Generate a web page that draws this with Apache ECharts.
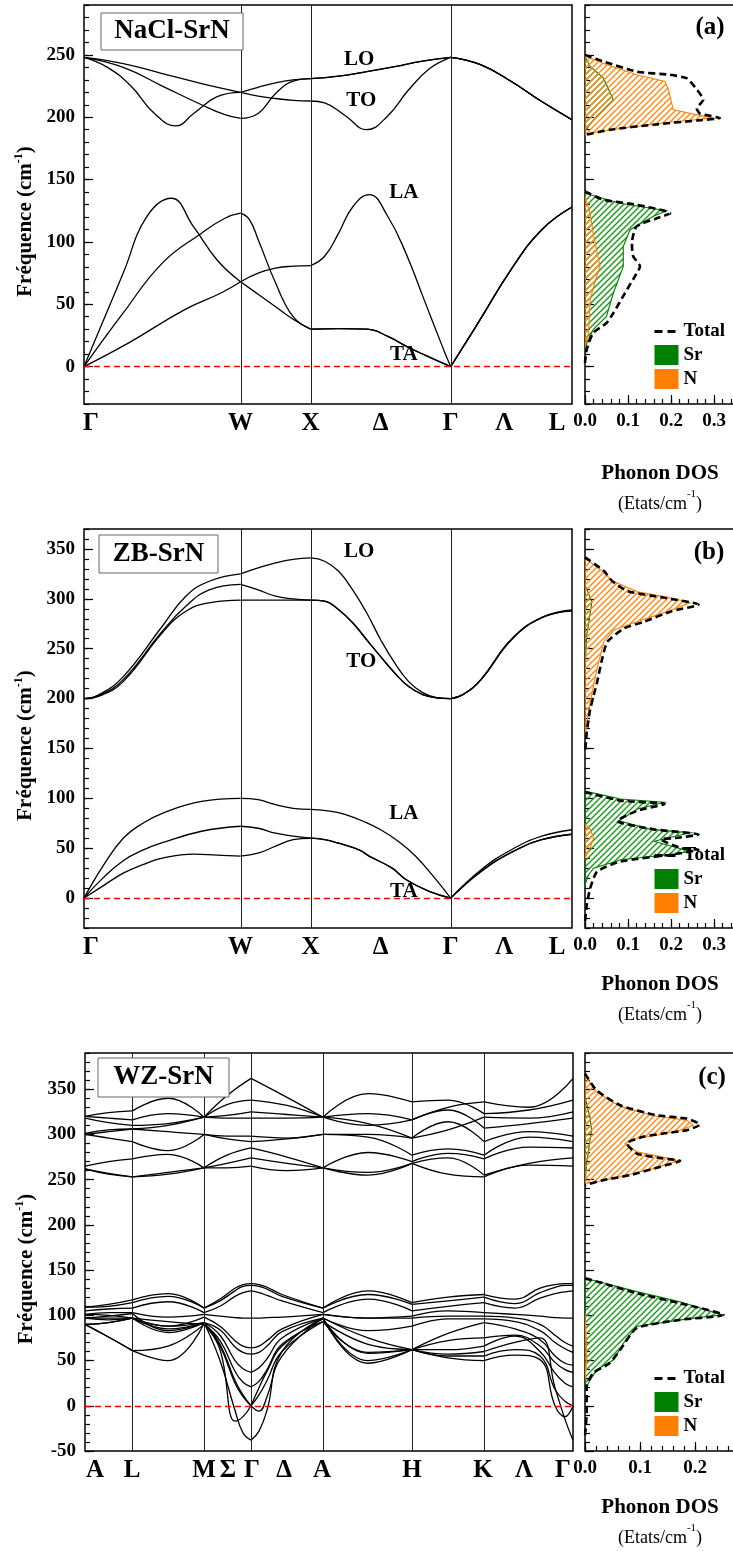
<!DOCTYPE html>
<html>
<head>
<meta charset="utf-8">
<title>Phonons SrN</title>
<script src="https://cdn.jsdelivr.net/npm/echarts@6.0.0/dist/echarts.min.js"></script>
<style>
  html, body { margin: 0; padding: 0; background: #fff; }
  #chart { width: 733px; height: 1555px; }
</style>
</head>
<body>
<div id="chart"></div>
<script>
// ---------------- (a) NaCl-SrN : path Γ-W-X-Γ-L ----------------
const kNodesA = [0, 1.118, 1.618, 2.618, 3.484];
const tickNamesFcc = ['Γ', 'W', 'X', 'Δ', 'Γ', 'Λ', 'L'];
const tickPosFcc = [0.05, 1.118, 1.618, 2.118, 2.618, 3.0, 3.377];

const nacl_O1 = [[0,248],[0.28,243],[0.559,235],[0.839,227],[1.118,220],[1.243,217],[1.368,215],[1.493,213.5],[1.618,213],[1.718,211.5],[1.868,201],[2.018,190],[2.168,201],[2.318,222],[2.468,239],[2.618,248],[2.835,242],[3.051,228.6],[3.268,212.6],[3.484,198]];
const nacl_O2 = [[0,248],[0.168,240],[0.335,225],[0.503,203],[0.656,193],[0.783,203],[0.95,216.5],[1.118,220],[1.243,224],[1.368,227.5],[1.493,230],[1.618,231],[1.818,233],[2.018,236.5],[2.218,240.5],[2.418,245],[2.618,248],[2.835,242],[3.051,228.6],[3.268,212.6],[3.484,198]];
const nacl_O3 = [[0,248],[0.28,240],[0.559,225],[0.839,210],[1.006,202],[1.118,199],[1.243,203],[1.368,219],[1.493,229],[1.618,231],[1.818,233],[2.018,236.5],[2.218,240.5],[2.418,245],[2.618,248],[2.835,242],[3.051,228.6],[3.268,212.6],[3.484,198]];
const nacl_A1 = [[0,0],[0.319,19],[0.716,45.5],[0.978,59],[1.118,68],[1.243,75],[1.368,79],[1.493,80.5],[1.618,81],[1.718,88.5],[1.818,107],[1.918,128],[2.036,138],[2.168,120.6],[2.298,91],[2.428,53.7],[2.568,13.4],[2.618,0],[2.83,38],[3.05,78],[3.27,110],[3.484,128]];
const nacl_A2 = [[0,0],[0.28,43],[0.559,83],[0.839,107],[1.006,119],[1.118,123],[1.18,118],[1.243,102],[1.368,67],[1.493,40],[1.618,30],[1.82,30.5],[2.022,30],[2.173,24],[2.306,16],[2.438,9],[2.618,0],[2.83,38],[3.05,78],[3.27,110],[3.484,128]];
const nacl_A3 = [[0,0],[0.28,75],[0.447,120],[0.623,135],[0.783,112],[0.95,85.5],[1.118,68],[1.243,58],[1.368,48],[1.493,38],[1.618,30],[1.82,30.5],[2.022,30],[2.173,24],[2.306,16],[2.438,9],[2.618,0],[2.83,38],[3.05,78],[3.27,110],[3.484,128]];
const nacl_modeNames = [[1.965,246.5,'LO'],[1.98,213.4,'TO'],[2.283,139.2,'LA'],[2.283,9.6,'TA']];

// phonon DOS of NaCl-SrN, [states/cm-1, cm-1]
const nacl_totalHi = [[0,250],[0.043,244.7],[0.12,236.6],[0.198,234],[0.236,231.3],[0.256,224],[0.275,214],[0.26,207],[0.267,203],[0.314,199.3],[0.26,197.4],[0.159,194],[0.058,190],[0.004,186],[0,184.6]];
const nacl_totalLo = [[0,140.5],[0.043,133.8],[0.12,129.8],[0.198,123],[0.167,119],[0.12,112.4],[0.109,99],[0.112,88.4],[0.128,80.4],[0.116,72.4],[0.093,59],[0.066,43],[0.05,35],[0.019,27],[0.004,13.6],[0,3]];
const nacl_srHi = [[0,249],[0.012,240.7],[0.043,231.3],[0.066,214],[0.027,200.6],[0.008,192.6],[0,188.6]];
const nacl_srLo = [[0,139],[0.081,131],[0.19,125],[0.159,120.5],[0.105,109.8],[0.089,96.4],[0.089,80.4],[0.066,59],[0.05,40.3],[0.019,29.6],[0.004,19],[0,11]];
const nacl_nHi = [[0,249.2],[0.043,243],[0.12,234],[0.186,228.6],[0.194,222],[0.2,214],[0.205,206],[0.298,199.3],[0.198,196],[0.081,191],[0.004,186.6],[0,186]];
const nacl_nLo = [[0,136.5],[0.012,123],[0.019,107],[0.035,80.4],[0.027,72.4],[0.012,53.7],[0.008,27],[0,16.3]];

// ---------------- (b) ZB-SrN : path Γ-W-X-Γ-L ----------------
const zb_TO = [[1.618,298.6],[1.718,297.6],[1.818,289],[1.918,276],[2.018,259],[2.118,242],[2.218,225.7],[2.318,212],[2.418,204],[2.518,200.7],[2.618,200]];
const zb_O1 = [[0,200],[0.108,204],[0.28,222],[0.559,272.5],[0.727,302.6],[0.894,317.6],[1.118,325],[1.243,331],[1.368,336],[1.493,339.5],[1.618,341],[1.718,337.7],[1.818,327.6],[1.918,309],[2.018,286],[2.118,259],[2.218,235.7],[2.318,217],[2.418,206],[2.518,201],[2.618,200],[2.705,204],[2.835,219],[3.051,259],[3.268,281],[3.484,288]];
const zb_O2 = [[0,200],[0.108,203],[0.28,219],[0.559,267.5],[0.727,292.5],[0.894,309],[1.118,314.5],[1.243,309],[1.368,302.6],[1.493,300]].concat(zb_TO, [[2.705,204],[2.835,219.5],[3.051,259.5],[3.268,281.5],[3.484,289]]);
const zb_O3 = [[0,200],[0.108,202.5],[0.28,217],[0.559,266],[0.727,287.5],[0.894,296],[1.118,298.6],[1.368,298.6]].concat(zb_TO, [[2.705,204],[2.835,219],[3.051,259],[3.268,281],[3.484,288]]);
const zb_TA = [[1.618,60],[1.718,58.5],[1.818,55],[1.968,48],[2.036,42],[2.2,30],[2.301,18.4],[2.46,7],[2.618,0],[2.835,26.7],[3.051,45.8],[3.268,58.5],[3.484,64]];
const zb_A1 = [[0,0],[0.134,31.8],[0.28,60],[0.42,75],[0.559,85],[0.839,97],[1.118,100],[1.243,98.6],[1.368,93.6],[1.493,90],[1.618,89],[1.768,87],[1.868,83.6],[1.993,77],[2.118,68.5],[2.243,57],[2.368,42],[2.493,22],[2.618,0],[2.835,28.4],[3.051,48.5],[3.268,62],[3.484,68.5]];
const zb_A2 = [[0,0],[0.134,20],[0.28,37.5],[0.42,48],[0.559,55.5],[0.839,67],[1.118,72],[1.243,70],[1.368,65],[1.493,62]].concat(zb_TA);
const zb_A3 = [[0,0],[0.134,12],[0.28,25],[0.42,33.5],[0.559,40],[0.783,44],[0.95,43],[1.118,42],[1.243,45],[1.368,52],[1.493,58.5]].concat(zb_TA);
const zb_modeNames = [[1.965,347.4,'LO'],[1.98,237,'TO'],[2.283,85,'LA'],[2.283,6.3,'TA']];

const zb_totalHi = [[0,341.6],[0.044,328],[0.063,317.9],[0.099,307.7],[0.185,301],[0.264,294.2],[0.2,287.4],[0.138,277.2],[0.091,270.4],[0.052,256.9],[0.04,240],[0.028,216.2],[0.012,189],[0.004,165.4],[0,145]];
const zb_totalLo = [[0,106.2],[0.083,97.7],[0.185,94.3],[0.122,87.6],[0.075,77.4],[0.161,68.9],[0.264,63.8],[0.216,60.4],[0.177,58.7],[0.224,50.2],[0.264,48.5],[0.2,43.5],[0.083,36.7],[0.028,26.5],[0.012,9.6],[0.004,-7.3],[0,-24]];
const zb_srHi = [[0,314],[0.016,297],[0.004,263],[0,230]];
const zb_srLo = [[0,107.2],[0.083,99.4],[0.185,96],[0.122,89.3],[0.079,77.4],[0.153,68.9],[0.246,65.5],[0.2,61],[0.161,57],[0.216,50.2],[0.246,46.8],[0.193,43.5],[0.083,38.4],[0.02,29.9],[0.008,23.1],[0,13]];
const zb_nHi = [[0,341],[0.044,326.3],[0.063,318],[0.122,307],[0.2,301],[0.244,296],[0.193,287.4],[0.122,277.2],[0.067,268.7],[0.044,257],[0.028,230],[0.012,196],[0.004,175.6],[0,162]];
const zb_nLo = [[0,74],[0.012,68.9],[0.02,60.4],[0.012,50.2],[0,40]];

// ---------------- (c) WZ-SrN : path A-L-M-Γ-A-H-K-Γ ----------------
const kNodesC = [0, 47.4, 119, 166, 238, 327, 399, 488];
const tickNamesWz = ['A', 'L', 'M', 'Σ', 'Γ', 'Δ', 'A', 'H', 'K', 'Λ', 'Γ'];
const tickPosWz = [10, 47, 119, 143, 167, 199, 237, 327, 398, 439, 478];

// N-like optical branches, sampled at kUpperC
const kUpperC = [0, 23.5, 47.4, 83, 119, 142, 166, 202, 238, 283, 327, 363, 399, 444, 488];
const wz_U1 = [320, 324, 326, 340, 319, 343, 362, 341, 319, 345, 336, 338, 323, 327, 338];
const wz_U2 = [320, 318, 316, 323, 319, 333, 338, 332, 319, 323, 316, 330, 336, 330, 362];
const wz_U3 = [318, 313, 310, 312, 319, 321, 325, 322, 319, 312, 296, 305, 319, 318, 325];
const wz_U4 = [301, 305, 306, 310, 319, 318, 318, 318, 319, 310, 316, 327, 307, 312, 318];
const wz_U5 = [300, 303, 306, 303, 300, 298, 298, 296, 300, 300, 296, 314, 292, 303, 298];
const wz_U6 = [300, 296, 292, 282, 300, 295, 292, 295, 300, 297, 277, 284, 277, 297, 292];
const wz_U7 = [265, 270, 273, 278, 263, 277, 285, 275, 263, 280, 270, 279, 273, 286, 285];
const wz_U8 = [262, 257, 253, 258, 263, 268, 274, 268, 263, 258, 268, 274, 255, 268, 274];
const wz_U9 = [262, 256, 253, 256, 263, 263, 265, 260, 263, 255, 268, 256, 253, 266, 265];

// acoustic and Sr-like branches, sampled at kLowerC
const kLowerC = [0, 23.5, 47.4, 83, 119, 135, 150, 158, 166, 174, 182, 197, 238, 283, 327, 363, 399, 430, 455, 470, 480, 488];
const wz_B1 = [109, 112, 117, 124, 108, 118, 130, 134, 135, 134, 131, 123, 108, 127, 114, 120, 123, 118, 130, 134, 135, 135];
const wz_B2 = [109, 110, 114, 121, 108, 116, 127, 132, 133, 132, 129, 121, 108, 123, 112, 116, 120, 113, 125, 131, 133, 133];
const wz_B3 = [105, 107, 108, 115, 103, 110, 121, 125, 127, 125, 122, 116, 103, 118, 105, 110, 114, 108, 119, 124, 126, 127];
const wz_B4 = [101, 103, 103, 98, 101, 99, 97.5, 97, 97, 97, 97.5, 98, 101, 97, 99, 105, 103, 101, 99, 97.5, 97, 97];
const wz_B5 = [101, 100, 97, 88, 98, 88, 72, 66, 64, 66, 72, 85, 101, 97, 97, 99, 99, 97, 90, 78, 70, 66];
const wz_B6 = [97, 99, 102, 83, 92, 84, 65, 59, 57, 59, 66, 82, 97, 83, 88, 96, 96, 93, 83, 70, 63, 59];
const wz_B7 = [97, 97, 97, 81, 92, 78, 50, 41, 37, 42, 52, 75, 97, 75, 62, 80, 92, 85, 73, 55, 47, 45];
const wz_B8 = [90, 92, 97, 93, 90, 72, 38, 26, 21, 27, 40, 68, 93, 68, 62, 72, 75, 78, 66, 48, 40, 37];
const wz_B9 = [90, 76, 61, 66, 90, 66, 25, 10, 0, 12, 28, 60, 93, 59, 62, 62, 66, 77, 60, 36, 25, 21];
const wz_B10 = [90, 76, 61, 50, 91, 62, -17, -12, 0, 20, 38, 66, 96, 58, 62, 55, 55, 62, 55, 18, 5, 0];
const wz_B11 = [97, 95, 97, 88, 92, 68, 28, 12, 0, -6, 10, 55, 97, 50, 62, 53, 50, 56, 51, 0, -12, 0];
const wz_B12 = [90, 92, 97, 85, 92, 50, -5, -30, -38, -28, -5, 60, 97, 47, 62, 57, 60, 70, 75, 20, -15, -38];

const wz_totalHi = [[0,367.2],[0.021,348.8],[0.064,332.2],[0.13,321.2],[0.185,317.5],[0.209,310.9],[0.185,304.6],[0.142,301],[0.106,297.3],[0.076,290],[0.094,278.9],[0.142,273.4],[0.173,270.8],[0.136,264.1],[0.082,255],[0.033,249.4],[0,243.9]];
const wz_totalLo = [[0,140.9],[0.033,135.4],[0.094,124.4],[0.173,113.3],[0.252,100.5],[0.173,95],[0.094,85.8],[0.064,61.9],[0.045,47.2],[0.015,36.2],[0.003,21.5],[0.003,-8],[0,-33.8]];
const wz_srHi = [[0,341.4],[0.009,319.3],[0.012,304.6],[0.003,268],[0,245.8]];
const wz_srLo = [[0,140.9],[0.033,136.1],[0.094,126.2],[0.173,115.1],[0.249,100.5],[0.173,95],[0.094,87.6],[0.07,69.2],[0.052,50.8],[0.021,39.7],[0.006,25],[0,14]];
const wz_nHi = [[0,365.4],[0.021,347],[0.064,331],[0.13,320],[0.185,315.6],[0.197,310],[0.173,304.6],[0.13,299.1],[0.094,295.4],[0.073,290],[0.094,280.8],[0.155,273.4],[0.17,270.8],[0.124,262.3],[0.064,253.1],[0.021,247.6],[0,245.8]];
const wz_nLo = [[0,102.6],[0.003,65.9],[0.003,47.5],[0,29.2]];

// ---------------- drawing ----------------
const SERIF = 'Liberation Serif';
const GREEN = '#008000';
const ORANGE = '#ff8000';
const HATCH_GREEN = '#1a9a1a';
const HATCH_ORANGE = '#ff8a10';
const HATCH_STEP = 6;
const tickStyle = { color: '#000', width: 1.2 };

function font(size, weight, extra) {
  return Object.assign({ fontFamily: SERIF, fontWeight: weight || 'bold', fontSize: size, color: '#000' }, extra || {});
}

function onGrid(kGrid, values) {
  return kGrid.map((k, i) => [k, values[i]]);
}

// break a branch at the high-symmetry points so each path segment is smoothed on its own
function splitAtNodes(points, nodes) {
  const out = [];
  let cur = [];
  points.forEach(p => {
    cur.push(p);
    const isNode = nodes.some(n => Math.abs(n - p[0]) < 1e-9);
    if (isNode && cur.length > 1) { out.push(cur); cur = [p]; }
  });
  if (cur.length > 1) out.push(cur);
  return out;
}

function nearestIndex(arr, v) {
  let best = 0;
  arr.forEach((a, i) => { if (Math.abs(a - v) < Math.abs(arr[best] - v)) best = i; });
  return best;
}

// "/" hatching lines covering a pixel box, to be clipped by the DOS polygon
function hatchLines(pts, color) {
  const xs = pts.map(q => q[0]), ys = pts.map(q => q[1]);
  const x0 = Math.min(...xs), x1 = Math.max(...xs), y0 = Math.min(...ys), y1 = Math.max(...ys);
  const lines = [];
  for (let s = Math.floor((x0 + y0) / HATCH_STEP) * HATCH_STEP; s <= x1 + y1 + HATCH_STEP; s += HATCH_STEP) {
    lines.push({
      type: 'line',
      shape: { x1: s - y1 - 1, y1: y1 + 1, x2: s - y0 + 1, y2: y0 - 1 },
      style: { stroke: color, lineWidth: 1.4 }
    });
  }
  return lines;
}

const panels = [
  {
    top: 5, height: 399, bandLeft: 84, yMin: -30, yMax: 290, kMax: 3.484,
    nodes: kNodesA, tickNames: tickNamesFcc, tickPos: tickPosFcc,
    branches: [nacl_O1, nacl_O2, nacl_O3, nacl_A1, nacl_A2, nacl_A3],
    modes: nacl_modeNames, dosMax: 150 / 430, dosNameGap: 55,
    total: [nacl_totalHi, nacl_totalLo], sr: [nacl_srHi, nacl_srLo], n: [nacl_nHi, nacl_nLo],
    title: 'NaCl-SrN', box: [101, 13, 142, 37], tag: '(a)', tagPos: [710, 28]
  },
  {
    top: 529, height: 399, bandLeft: 84, yMin: -30, yMax: 370, kMax: 3.484,
    nodes: kNodesA, tickNames: tickNamesFcc, tickPos: tickPosFcc,
    branches: [zb_O1, zb_O2, zb_O3, zb_A1, zb_A2, zb_A3],
    modes: zb_modeNames, dosMax: 150 / 430, dosNameGap: 42,
    total: [zb_totalHi, zb_totalLo], sr: [zb_srHi, zb_srLo], n: [zb_nHi, zb_nLo],
    title: 'ZB-SrN', box: [99, 535, 119, 38], tag: '(b)', tagPos: [709, 553]
  },
  {
    top: 1053, height: 398, bandLeft: 85, yMin: -50, yMax: 390, kMax: 488,
    nodes: kNodesC, tickNames: tickNamesWz, tickPos: tickPosWz,
    branches: [wz_U1, wz_U2, wz_U3, wz_U4, wz_U5, wz_U6, wz_U7, wz_U8, wz_U9].map(v => onGrid(kUpperC, v))
      .concat([wz_B1, wz_B2, wz_B3, wz_B4, wz_B5, wz_B6, wz_B7, wz_B8, wz_B9, wz_B10, wz_B11, wz_B12].map(v => onGrid(kLowerC, v))),
    modes: null, dosMax: 150 / 550, dosNameGap: 42,
    total: [wz_totalHi, wz_totalLo], sr: [wz_srHi, wz_srLo], n: [wz_nHi, wz_nLo],
    title: 'WZ-SrN', box: [98, 1058, 131, 39], tag: '(c)', tagPos: [712, 1078]
  }
];

const option = {
  animation: false,
  backgroundColor: '#fff',
  grid: [], xAxis: [], yAxis: [], series: [], legend: [], graphic: []
};

panels.forEach(p => {
  const gBand = option.grid.length;
  option.grid.push({ left: p.bandLeft, top: p.top, width: 488, height: p.height, show: true,
    borderColor: '#000', borderWidth: 1.5, backgroundColor: 'transparent', outerBoundsMode: 'none' });
  option.grid.push({ left: 585, top: p.top, width: 150, height: p.height, show: true,
    borderColor: '#000', borderWidth: 1.5, backgroundColor: 'transparent', outerBoundsMode: 'none' });
  const gDos = gBand + 1;

  // band structure axes
  const xBand = option.xAxis.length;
  option.xAxis.push({
    gridIndex: gBand, type: 'value', position: 'bottom', min: 0, max: p.kMax,
    axisLine: { show: false, onZero: false }, axisTick: { show: false }, splitLine: { show: false },
    axisLabel: Object.assign(font(25), {
      customValues: p.tickPos, margin: 7,
      formatter: v => p.tickNames[nearestIndex(p.tickPos, v)]
    })
  });
  const yBand = option.yAxis.length;
  option.yAxis.push({
    gridIndex: gBand, type: 'value', position: 'left', min: p.yMin, max: p.yMax, interval: 10,
    axisLine: { show: false, onZero: false }, splitLine: { show: false },
    axisTick: { inside: true, length: 5, lineStyle: tickStyle },
    axisLabel: Object.assign(font(19), { margin: 9, formatter: v => (v % 50 === 0 ? String(v) : '') }),
    name: '{t|Fréquence (cm}{s|-1}{t|)}', nameLocation: 'middle', nameRotate: 90, nameGap: 37,
    nameTextStyle: {
      padding: [0, 34, 0, 0],
      rich: {
        t: font(21, 'bold', { lineHeight: 24 }),
        s: font(12, 'bold', { lineHeight: 12, verticalAlign: 'top' })
      }
    }
  });
  const majorY = [];
  for (let v = Math.ceil(p.yMin / 50) * 50; v <= p.yMax; v += 50) majorY.push(v);
  option.yAxis.push({
    gridIndex: gBand, type: 'value', position: 'left', min: p.yMin, max: p.yMax,
    axisLine: { show: false, onZero: false }, splitLine: { show: false }, axisLabel: { show: false },
    axisTick: { inside: true, length: 9, customValues: majorY, lineStyle: tickStyle }
  });

  // DOS axes
  const xDos = option.xAxis.length;
  option.xAxis.push({
    gridIndex: gDos, type: 'value', position: 'bottom', min: 0, max: p.dosMax, interval: 0.02,
    axisLine: { show: false, onZero: false }, splitLine: { show: false },
    axisTick: { inside: true, length: 5, lineStyle: tickStyle },
    axisLabel: Object.assign(font(19), {
      margin: 8,
      formatter: v => (Math.abs(v * 10 - Math.round(v * 10)) < 1e-6 ? v.toFixed(1) : '')
    }),
    name: '{b|Phonon DOS}\n{r|(Etats/cm}{s|-1}{r|)}', nameLocation: 'middle', nameGap: p.dosNameGap,
    nameTextStyle: {
      rich: {
        b: font(21, 'bold', { lineHeight: 30 }),
        r: font(18, 'normal', { lineHeight: 30 }),
        s: font(11, 'normal', { lineHeight: 14, verticalAlign: 'top' })
      }
    }
  });
  option.xAxis.push({
    gridIndex: gDos, type: 'value', position: 'bottom', min: 0, max: p.dosMax,
    axisLine: { show: false, onZero: false }, splitLine: { show: false }, axisLabel: { show: false },
    axisTick: { inside: true, length: 9, customValues: [0, 0.1, 0.2, 0.3].filter(v => v <= p.dosMax), lineStyle: tickStyle }
  });
  const yDos = option.yAxis.length;
  option.yAxis.push({
    gridIndex: gDos, type: 'value', position: 'left', min: p.yMin, max: p.yMax, interval: 10,
    axisLine: { show: false, onZero: false }, splitLine: { show: false }, axisLabel: { show: false },
    axisTick: { inside: true, length: 5, lineStyle: tickStyle }
  });
  option.yAxis.push({
    gridIndex: gDos, type: 'value', position: 'left', min: p.yMin, max: p.yMax,
    axisLine: { show: false, onZero: false }, splitLine: { show: false }, axisLabel: { show: false },
    axisTick: { inside: true, length: 9, customValues: majorY, lineStyle: tickStyle }
  });

  // dispersion curves
  let first = true;
  p.branches.forEach(branch => {
    splitAtNodes(branch, p.nodes).forEach(seg => {
      const s = {
        type: 'line', xAxisIndex: xBand, yAxisIndex: yBand, data: seg,
        smooth: 0.45, symbol: 'none', silent: true, z: 3,
        lineStyle: { color: '#000', width: 1.3 }
      };
      if (first) {
        s.markLine = {
          silent: true, symbol: 'none', label: { show: false }, animation: false,
          data: [{ yAxis: 0, lineStyle: { color: '#ff0000', width: 1.3, type: [6, 4] } }]
            .concat(p.nodes.slice(1, -1).map(k => ({ xAxis: k, lineStyle: { color: '#222', width: 1, type: 'solid' } })))
        };
        first = false;
      }
      option.series.push(s);
    });
  });

  if (p.modes) {
    option.series.push({
      type: 'scatter', xAxisIndex: xBand, yAxisIndex: yBand, data: p.modes,
      symbolSize: 1, itemStyle: { color: 'rgba(0,0,0,0)' }, silent: true, z: 6,
      label: Object.assign(font(21), {
        show: true, position: 'inside', opacity: 1,
        textBorderWidth: 0, textShadowBlur: 0,
        formatter: q => q.data[2]
      })
    });
  }

  // partial DOS: hatched area clipped to each curve, with a solid outline
  const partial = (name, color, hatchColor, curves, z) => ({
    type: 'custom', name, xAxisIndex: xDos, yAxisIndex: yDos, data: [[0, 0]],
    itemStyle: { color }, clip: true, silent: true, z,
    renderItem: (params, api) => {
      const children = [];
      curves.forEach(c => {
        const pts = c.map(pt => api.coord(pt));
        children.push({
          type: 'group',
          clipPath: { type: 'polygon', shape: { points: pts } },
          children: hatchLines(pts, hatchColor)
        });
        children.push({
          type: 'polygon', shape: { points: pts },
          style: { fill: 'none', stroke: color, lineWidth: 1.1 }
        });
      });
      return { type: 'group', children };
    }
  });
  option.series.push(partial('Sr', GREEN, HATCH_GREEN, p.sr, 2));
  option.series.push(partial('N', ORANGE, HATCH_ORANGE, p.n, 3));
  p.total.forEach(d => option.series.push({
    type: 'line', name: 'Total', xAxisIndex: xDos, yAxisIndex: yDos, data: d,
    smooth: 0.2, symbol: 'none', silent: true, z: 5,
    itemStyle: { color: '#000' },
    lineStyle: { color: '#000', width: 2.6, type: [7, 4] }
  }));

  option.legend.push({
    left: 653, top: p.top + p.height - 82, orient: 'vertical',
    itemWidth: 24, itemHeight: 20, itemGap: 4, padding: 0, selectedMode: false,
    data: [
      { name: 'Total', itemStyle: { opacity: 0 }, lineStyle: { type: [8, 5], width: 3, color: '#000' } },
      { name: 'Sr', icon: 'rect' },
      { name: 'N', icon: 'rect' }
    ],
    textStyle: font(19)
  });

  // structure name in a framed box, panel letter
  const [bx, by, bw, bh] = p.box;
  option.graphic.push({
    type: 'rect', z: 20, silent: true,
    shape: { x: bx, y: by, width: bw, height: bh },
    style: { fill: '#fff', stroke: '#666', lineWidth: 1 }
  });
  option.graphic.push({
    type: 'text', z: 21, silent: true, x: bx + bw / 2, y: by + bh / 2,
    style: { text: p.title, font: 'bold 27px "Liberation Serif"', fill: '#000', align: 'center', verticalAlign: 'middle' }
  });
  option.graphic.push({
    type: 'text', z: 21, silent: true, x: p.tagPos[0], y: p.tagPos[1],
    style: { text: p.tag, font: 'bold 25px "Liberation Serif"', fill: '#000', align: 'center', verticalAlign: 'middle' }
  });
});

const chart = echarts.init(document.getElementById('chart'), null, { renderer: 'canvas' });
chart.setOption(option);
</script>
</body>
</html>
